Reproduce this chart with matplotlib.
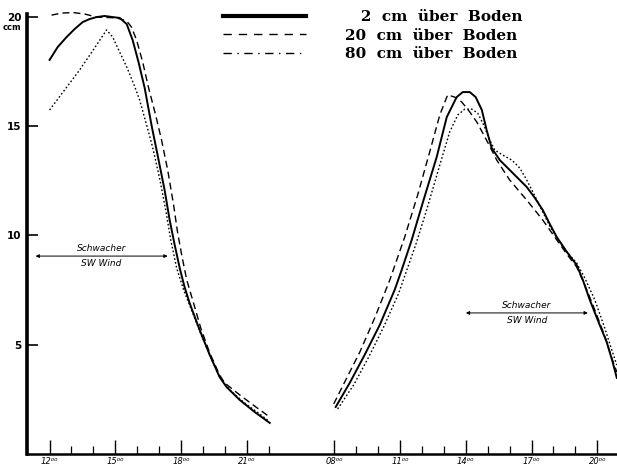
import matplotlib
matplotlib.use("Agg")
import matplotlib.pyplot as plt
import matplotlib.transforms as mtransforms
from matplotlib.lines import Line2D

# the time axis is broken between the two days: day 2 hours are shifted by this
DAY2_SHIFT = 17

labels = ["\u2007 2  cm  über  Boden", "20  cm  über  Boden", "80  cm  über  Boden"]

# day 1, afternoon/evening (hours)
t1_2cm = [12.0, 12.37, 12.78, 13.14, 13.51, 13.83, 14.15, 14.51, 14.88, 15.2, 15.52, 15.79, 16.06, 16.34, 16.66,
          16.93, 17.25, 17.48, 17.71, 17.94, 18.16, 18.39, 18.85, 19.31, 19.76, 20.08, 20.68, 21.36, 22.05]
v1_2cm = [18.02, 18.61, 19.07, 19.43, 19.75, 19.89, 19.98, 20.03, 19.98, 19.94, 19.66, 18.93, 17.92, 16.74, 15.0,
          13.67, 12.07, 10.7, 9.56, 8.5, 7.64, 6.91, 5.67, 4.53, 3.52, 3.06, 2.47, 1.92, 1.42]
t1_20cm = [12.09, 12.55, 13.05, 13.6, 14.15, 14.65, 15.06, 15.52, 15.74, 15.97, 16.25, 16.52, 16.84, 17.11, 17.39,
           17.66, 17.84, 18.03, 18.26, 18.53, 18.9, 19.31, 19.76, 19.99, 20.68, 21.36, 22.05]
v1_20cm = [20.07, 20.16, 20.19, 20.12, 19.98, 19.96, 19.94, 19.8, 19.52, 18.93, 17.92, 16.74, 15.5, 14.36, 12.99,
           11.39, 10.15, 9.1, 7.96, 7.04, 5.76, 4.62, 3.61, 3.25, 2.7, 2.19, 1.69]
t1_80cm = [12.0, 12.68, 13.37, 14.05, 14.6, 14.88, 15.2, 15.52, 15.84, 16.11, 16.43, 16.7, 17.02, 17.3, 17.53,
           17.8, 18.12, 18.39, 18.85, 19.31, 19.76, 20.22, 20.9, 21.59, 21.95]
v1_80cm = [15.73, 16.64, 17.56, 18.56, 19.39, 19.07, 18.38, 17.7, 16.92, 16.19, 15.04, 14.04, 12.62, 11.16, 9.79,
           8.5, 7.5, 6.81, 5.62, 4.53, 3.52, 2.93, 2.33, 1.83, 1.55]

# day 2, morning to evening (hours)
t2_2cm = [8.06, 8.7, 9.38, 10.07, 10.75, 11.07, 11.53, 12.03, 12.67, 13.13, 13.58, 13.86, 14.18, 14.45, 14.73,
          14.95, 15.18, 15.55, 16.0, 16.46, 16.78, 17.15, 17.51, 17.83, 18.15, 18.61, 19.06, 19.34, 19.66, 20.11,
          20.43, 20.7, 20.89]
v2_2cm = [2.15, 3.25, 4.53, 5.9, 7.5, 8.41, 9.79, 11.48, 13.58, 15.41, 16.32, 16.55, 16.55, 16.32, 15.73,
          14.81, 13.99, 13.44, 12.99, 12.53, 12.21, 11.71, 11.16, 10.52, 9.92, 9.24, 8.64, 7.96, 7.04, 5.9,
          5.12, 4.21, 3.48]
t2_20cm = [7.97, 8.47, 9.16, 9.84, 10.53, 11.21, 11.8, 12.35, 12.81, 13.17, 13.49, 13.81, 14.18, 14.5, 14.77,
           15.09, 15.41, 16.0, 16.78, 17.51, 18.15, 18.61, 19.06, 19.43, 19.89, 20.34, 20.66, 20.89]
v2_20cm = [2.29, 3.29, 4.66, 6.22, 7.96, 9.92, 11.84, 13.81, 15.5, 16.42, 16.32, 16.1, 15.64, 15.18, 14.68,
           14.08, 13.44, 12.53, 11.61, 10.7, 9.79, 9.14, 8.55, 7.73, 6.58, 5.4, 4.39, 3.75]
t2_80cm = [8.15, 8.88, 9.57, 10.25, 10.94, 11.26, 11.71, 12.21, 12.81, 13.26, 13.63, 13.95, 14.27, 14.54, 14.82,
           15.09, 15.32, 15.68, 16.1, 16.46, 16.78, 17.15, 17.51, 17.83, 18.15, 18.61, 19.06, 19.43, 19.89, 20.34,
           20.66, 20.89]
v2_80cm = [2.06, 3.16, 4.44, 5.81, 7.36, 8.28, 9.56, 11.16, 13.21, 14.72, 15.5, 15.77, 15.77, 15.59, 15.04,
           14.36, 13.9, 13.67, 13.44, 13.08, 12.53, 11.8, 11.07, 10.43, 9.88, 9.24, 8.73, 8.05, 7.04, 5.76,
           4.76, 4.07]

day1_major = [12, 15, 18, 21]
day1_minor = [13, 14, 16, 17, 19, 20, 22]
day2_major = [8, 11, 14, 17, 20]
day2_minor = [9, 10, 12, 13, 15, 16, 18, 19]
y_ticks = [5, 10, 15, 20]

# wind remarks: (day, start hour, end hour, level)
wind = [(1, 11.36, 17.39, 9.05), (2, 14.0, 19.57, 6.45)]

plt.rcParams["font.family"] = ["DejaVu Sans"]

fig = plt.figure(figsize=(6.17, 4.66), dpi=100)
ax = fig.add_axes([0.0438, 0.0258, 0.9562, 0.9432])


def x2(h):
    return [v + DAY2_SHIFT for v in h]


styles = [dict(color="black", lw=1.4, ls="-"),
          dict(color="black", lw=1.0, ls=(0, (5, 3))),
          dict(color="black", lw=1.0, ls=(0, (1.2, 1.6)))]

ax.plot(t1_2cm, v1_2cm, clip_on=False, **styles[0])
ax.plot(t1_20cm, v1_20cm, clip_on=False, **styles[1])
ax.plot(t1_80cm, v1_80cm, clip_on=False, **styles[2])
ax.plot(x2(t2_2cm), v2_2cm, clip_on=False, **styles[0])
ax.plot(x2(t2_20cm), v2_20cm, clip_on=False, **styles[1])
ax.plot(x2(t2_80cm), v2_80cm, clip_on=False, **styles[2])

ax.set_xlim(10.97, 37.9)
ax.set_ylim(0, 20.1)

for s in ["top", "right"]:
    ax.spines[s].set_visible(False)
ax.spines["left"].set_linewidth(2.6)
ax.spines["bottom"].set_linewidth(1.8)

ax.set_xticks(day1_major + x2(day2_major))
ax.set_xticklabels(["%02d\u2070\u2070" % h for h in day1_major + day2_major],
                   fontsize=6, style="italic")
ax.set_xticks(day1_minor + x2(day2_minor), minor=True)
ax.tick_params(axis="x", which="major", direction="in", length=10, width=1.0, pad=2)
ax.tick_params(axis="x", which="minor", direction="in", length=6, width=0.9)

ax.set_yticks(y_ticks)
ax.set_yticklabels([str(v) for v in y_ticks], fontsize=7.5, fontweight="bold")
ax.tick_params(axis="y", direction="in", length=8, width=1.2, pad=4)
trans = mtransforms.blended_transform_factory(ax.transAxes, ax.transData)
ax.text(-0.026, 19.7, "ccm", transform=trans, ha="center", va="top", fontsize=6, fontweight="bold")

for day, a, b, lev in wind:
    if day == 2:
        a, b = a + DAY2_SHIFT, b + DAY2_SHIFT
    ax.annotate("", xy=(a, lev), xytext=(b, lev),
                arrowprops=dict(arrowstyle="<|-|>", color="black", lw=0.7,
                                mutation_scale=5, shrinkA=0, shrinkB=0))
    mid = (a + b) / 2
    ax.text(mid, lev + 0.15, "Schwacher", ha="center", va="bottom", fontsize=6.5, style="italic")
    ax.text(mid, lev - 0.15, "SW Wind", ha="center", va="top", fontsize=6.5, style="italic")

handles = [Line2D([], [], color="black", lw=3.0, ls="-"),
           Line2D([], [], color="black", lw=1.0, ls=(0, (6, 5))),
           Line2D([], [], color="black", lw=1.0, ls=(0, (6, 4, 1, 4)))]
fig.legend(handles, labels, loc="upper left", bbox_to_anchor=(223 / 617, 1 - 10 / 466),
           bbox_transform=fig.transFigure, frameon=False, borderpad=0, borderaxespad=0,
           handlelength=5.4, handletextpad=2.6, labelspacing=0.3,
           prop=dict(family="DejaVu Serif", weight="bold", size=11))

fig.savefig("out.png", dpi=100)
